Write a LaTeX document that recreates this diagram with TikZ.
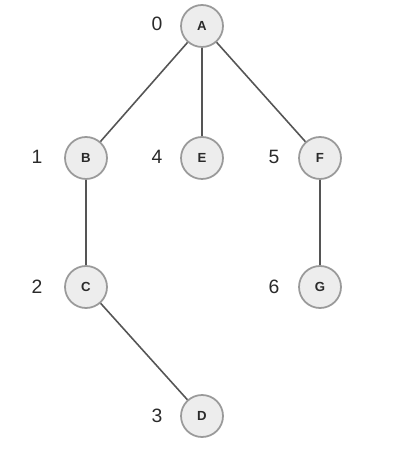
\documentclass[tikz,border=0pt]{standalone}
\usepackage{fontspec}
\setmainfont{Liberation Sans}
\usepackage{xcolor}
\usetikzlibrary{positioning}
\definecolor{cnode}{HTML}{EDEDED}
\definecolor{cring}{HTML}{9A9A9A}
\definecolor{cedge}{HTML}{555555}
\definecolor{cbk}{HTML}{2A2A2A}

\begin{document}
\begin{tikzpicture}[x=0.02cm, y=-0.02cm]
    \useasboundingbox (0, 0) rectangle (400, 475);
    \begin{scope}[
        vertex/.style={circle, draw=cring, line width=1pt, fill=cnode, minimum size=0.84cm, inner sep=0pt, font=\fontsize{7.5}{9}\selectfont\bfseries\color{cbk}},
        order/.style={font=\fontsize{11}{13}\selectfont\color{cbk}},
        edge/.style={line width=0.9pt, draw=cedge}
    ]
        % ================= LEVEL 0 =================
        \node[vertex] (vA) at (202, 26) {A};
        \node[order] (nA) at (157, 24) {0};

        % ================= LEVEL 1 =================
        \node[vertex] (vB) at (86, 158) {B};
        \node[vertex] (vE) at (202, 158) {E};
        \node[vertex] (vF) at (320, 158) {F};
        \node[order] (nB) at (37, 157) {1};
        \node[order] (nE) at (157, 157) {4};
        \node[order] (nF) at (274, 157) {5};

        % ================= LEVEL 2 =================
        \node[vertex] (vC) at (86, 287) {C};
        \node[vertex] (vG) at (320, 287) {G};
        \node[order] (nC) at (37, 287) {2};
        \node[order] (nG) at (274, 287) {6};

        % ================= LEVEL 3 =================
        \node[vertex] (vD) at (202, 416) {D};
        \node[order] (nD) at (157, 416) {3};

        % ================= EDGES =================
        \draw[edge] (vA) -- (vB);
        \draw[edge] (vA) -- (vE);
        \draw[edge] (vA) -- (vF);
        \draw[edge] (vB) -- (vC);
        \draw[edge] (vC) -- (vD);
        \draw[edge] (vF) -- (vG);
    \end{scope}
\end{tikzpicture}
\end{document}
